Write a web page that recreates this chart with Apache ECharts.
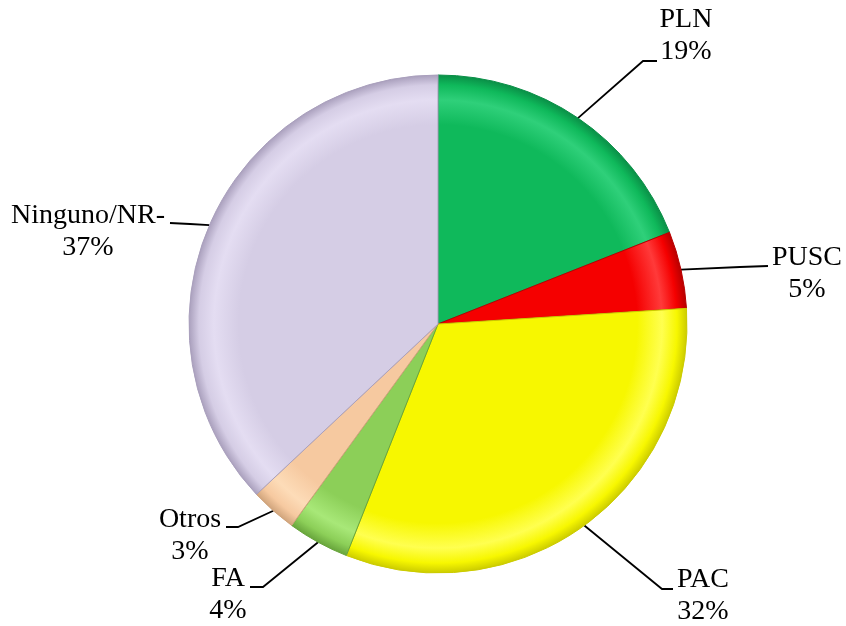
<!DOCTYPE html>
<html>
<head>
<meta charset="utf-8">
<script src="https://cdn.jsdelivr.net/npm/echarts@6/dist/echarts.min.js"></script>
<style>html,body{margin:0;padding:0;background:#fff}#c{width:846px;height:626px}</style>
</head>
<body>
<div id="c"></div>
<script>
const categories = ['PLN', 'PUSC', 'PAC', 'FA', 'Otros', 'Ninguno/NR-'];
const values = [19, 5, 32, 4, 3, 37];
const percentLabels = ['19%', '5%', '32%', '4%', '3%', '37%'];

const baseColors = ['#0fb95b', '#f50000', '#f7f700', '#8ccf58', '#f6c9a0', '#d5cde5'];
const lightColors = ['#2fd07a', '#ff3a3a', '#ffff50', '#a8e878', '#fddcb8', '#e4ddf2'];
const darkColors = ['#0a8f47', '#b80000', '#cccc00', '#68a53c', '#d0a47c', '#aaa0bd'];

// label layout: [labelCenterX, labelCenterY, elbowX, elbowY, endX, endY]
const labelPlace = [
  [686, 36, 643, 61, 657, 61],
  [807, 274, 740, 267, 768, 266],
  [703, 596, 662, 589, 673, 589],
  [228, 595, 263, 587, 250, 587],
  [190, 536, 238, 527, 226, 527],
  [88, 232, 190, 224, 170, 223]
];

const cx = 438, cy = 324, R = 249;

const chart = echarts.init(document.getElementById('c'), null, {renderer: 'canvas'});

function grad(i) {
  return {
    type: 'radial', x: cx, y: cy, r: R, global: true,
    colorStops: [
      {offset: 0, color: baseColors[i]},
      {offset: 0.8, color: baseColors[i]},
      {offset: 0.9, color: lightColors[i]},
      {offset: 0.96, color: baseColors[i]},
      {offset: 1, color: darkColors[i]}
    ]
  };
}

const data = categories.map((c, i) => ({
  name: c,
  value: values[i],
  itemStyle: {color: grad(i), borderColor: darkColors[i], borderWidth: 1}
}));

chart.setOption({
  backgroundColor: '#ffffff',
  animation: false,
  series: [{
    type: 'pie',
    center: [cx, cy],
    radius: [0, R],
    startAngle: 90,
    clockwise: true,
    data: data,
    label: {
      show: true,
      formatter: p => p.name + '\n' + percentLabels[p.dataIndex],
      fontFamily: '"Liberation Serif", "Times New Roman", serif',
      fontSize: 28,
      lineHeight: 32,
      color: '#000',
      align: 'center'
    },
    labelLine: {
      show: true,
      length: 20,
      length2: 10,
      smooth: false,
      lineStyle: {color: '#000', width: 1.8}
    },
    labelLayout: function (params) {
      const L = labelPlace[params.dataIndex];
      const start = params.labelLinePoints ? params.labelLinePoints[0] : [L[2], L[3]];
      return {
        x: L[0], y: L[1],
        align: 'center', verticalAlign: 'middle',
        labelLinePoints: [start, [L[2], L[3]], [L[4], L[5]]]
      };
    }
  }]
});
</script>
</body>
</html>
